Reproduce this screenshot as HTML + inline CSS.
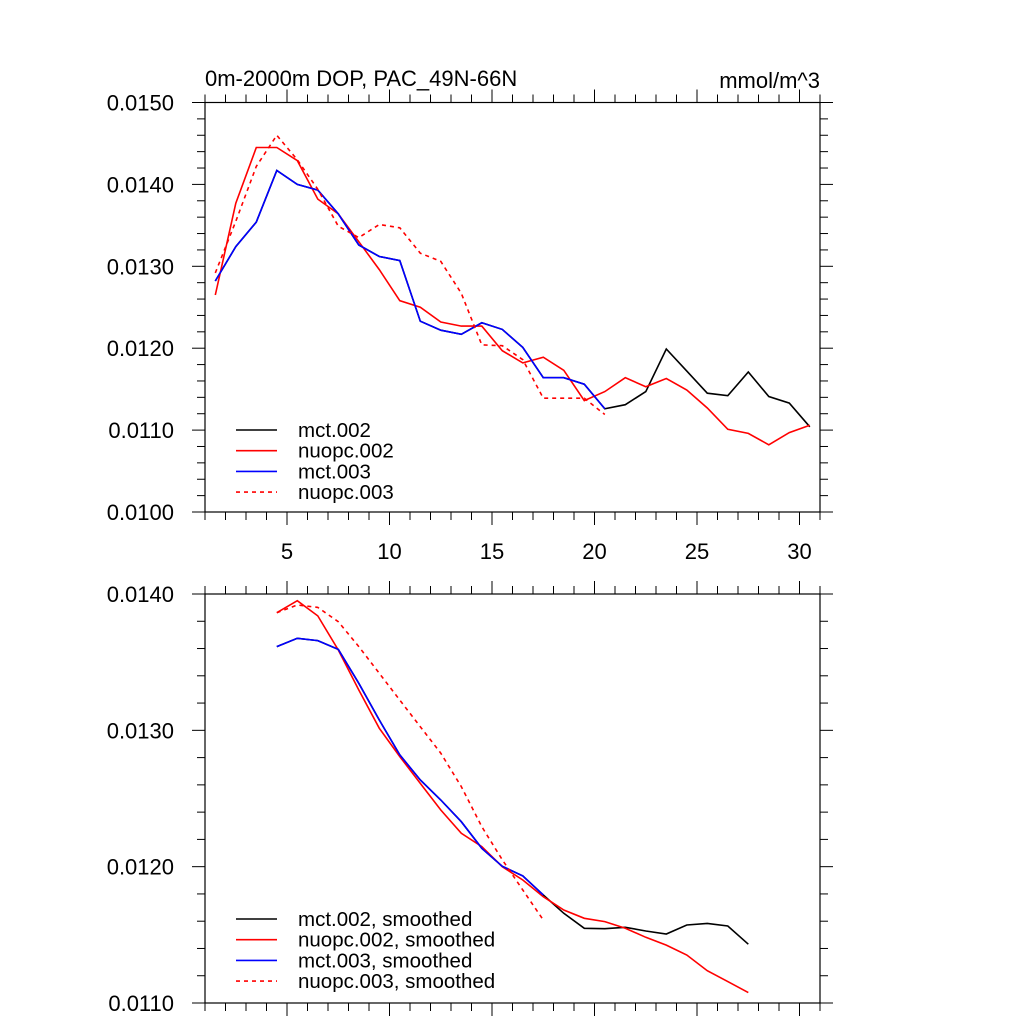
<!DOCTYPE html>
<html><head><meta charset="utf-8"><style>
html,body{margin:0;padding:0;background:#fff;}
svg text{font-family:"Liberation Sans",sans-serif;fill:#000;}
</style></head><body>
<svg id="chart" width="1024" height="1024" viewBox="0 0 1024 1024" xmlns="http://www.w3.org/2000/svg">
<rect width="1024" height="1024" fill="#fff"/>
<text x="205" y="86" font-size="22">0m-2000m DOP, PAC_49N-66N</text>
<text x="820" y="88" font-size="22" text-anchor="end">mmol/m^3</text>
<g id="top"></g><g id="bot"></g>
</svg>
<script>
const xCats = [1.5,2.5,3.5,4.5,5.5,6.5,7.5,8.5,9.5,10.5,11.5,12.5,13.5,14.5,15.5,16.5,17.5,18.5,19.5,20.5,21.5,22.5,23.5,24.5,25.5,26.5,27.5,28.5,29.5,30.5];
const mct002 = [0.01282,0.01324,0.01354,0.01417,0.0140,0.01393,0.01364,0.01326,0.01312,0.01307,0.01233,0.01222,0.01217,0.01231,0.01223,0.01201,0.01164,0.01164,0.01156,0.01126,0.01131,0.01147,0.01199,0.01172,0.01145,0.01142,0.01171,0.01141,0.01133,0.01104];
const nuopc002 = [0.01265,0.01377,0.01445,0.01445,0.01429,0.01382,0.01364,0.0133,0.01296,0.01258,0.0125,0.01232,0.01227,0.01227,0.01197,0.01182,0.01189,0.01173,0.01136,0.01147,0.01164,0.01153,0.01163,0.01149,0.01127,0.01101,0.01096,0.01082,0.01097,0.01106];
const mct003 = [0.01282,0.01324,0.01354,0.01417,0.0140,0.01393,0.01364,0.01326,0.01312,0.01307,0.01233,0.01222,0.01217,0.01231,0.01223,0.01201,0.01164,0.01164,0.01156,0.01126];
const nuopc003 = [0.01292,0.01355,0.01422,0.0146,0.0143,0.01394,0.01349,0.01335,0.01351,0.01347,0.01316,0.01306,0.01267,0.01204,0.01203,0.01186,0.01139,0.01139,0.01139,0.01119];
const xSm = [4.5,5.5,6.5,7.5,8.5,9.5,10.5,11.5,12.5,13.5,14.5,15.5,16.5,17.5,18.5,19.5,20.5,21.5,22.5,23.5,24.5,25.5,26.5,27.5];
const mct002s = [0.013614,0.013675,0.013658,0.013594,0.013345,0.013076,0.01282,0.012636,0.012489,0.01233,0.012135,0.012003,0.011932,0.011792,0.011658,0.011548,0.011545,0.011555,0.011528,0.011506,0.011572,0.011584,0.011565,0.011431];
const nuopc002s = [0.013863,0.013951,0.013839,0.013589,0.013296,0.013015,0.012807,0.012611,0.012416,0.012245,0.012147,0.012,0.011902,0.01178,0.011682,0.011621,0.011597,0.011548,0.011482,0.011425,0.011352,0.011237,0.011157,0.011076];
const mct003s = [0.013614,0.013675,0.013658,0.013594,0.013345,0.013076,0.01282,0.012636,0.012489,0.01233,0.012135,0.012003,0.011932,0.011792];
const nuopc003s = [0.013863,0.013919,0.013902,0.013797,0.013614,0.013418,0.013222,0.013027,0.012832,0.012587,0.012293,0.01205,0.011829,0.011609];
const topYTicks = ["0.0100","0.0110","0.0120","0.0130","0.0140","0.0150"];
const botYTicks = ["0.0110","0.0120","0.0130","0.0140"];
const xTickLabels = ["5","10","15","20","25","30"];

const NS="http://www.w3.org/2000/svg";
function mk(parent,tag,attrs){const e=document.createElementNS(NS,tag);for(const k in attrs)e.setAttribute(k,attrs[k]);parent.appendChild(e);return e;}
const L=205,R=820,X0=1,X1=31;
function xs(v){return L+(v-X0)/(X1-X0)*(R-L);}

function panel(g,top,bot,ymin,ymax,yLabels,showX,series,legendY,prefix){
  const ys=v=>bot-(v-ymin)/(ymax-ymin)*(bot-top);
  const frame=mk(g,'rect',{x:L,y:top,width:R-L,height:bot-top,fill:'none',stroke:'#000','stroke-width':1.2});
  
  
  for(let v=X0;v<=X1;v++){
    const maj=v%5===0, len=maj?13:8, x=xs(v);
    const t1=mk(g,'line',{x1:x,x2:x,y1:top,y2:top-len,stroke:'#000','stroke-width':1});
    
    
    const t2=mk(g,'line',{x1:x,x2:x,y1:bot,y2:bot+len,stroke:'#000','stroke-width':1});
    
    
  }
  if(showX){
    xTickLabels.forEach(s=>{
      const t=mk(g,'text',{x:xs(+s),y:bot+47,'font-size':22,'text-anchor':'middle'});
      t.textContent=s;
      
      
    });
  }
  const step=0.0002, n=Math.round((ymax-ymin)/step);
  for(let i=0;i<=n;i++){
    const v=ymin+i*step, y=ys(v), maj=i%5===0, len=maj?13:8;
    const a=mk(g,'line',{x1:L,x2:L-len,y1:y,y2:y,stroke:'#000','stroke-width':1});
    
    
    const b=mk(g,'line',{x1:R,x2:R+len,y1:y,y2:y,stroke:'#000','stroke-width':1});
    
    
  }
  yLabels.forEach(s=>{
    const t=mk(g,'text',{x:174,y:ys(+s)+8,'font-size':22,'text-anchor':'end'});
    t.textContent=s;
    
    
  });
  series.forEach((s,i)=>{
    const pts=s.y.map((v,j)=>xs(s.x[j]).toFixed(1)+','+ys(v).toFixed(1)).join(' ');
    const p=mk(g,'polyline',{points:pts,fill:'none',stroke:s.c,'stroke-width':1.6,'stroke-dasharray':s.d?'4,4':'none'});
    
    
    const ly=legendY+i*20.7;
    const ll=mk(g,'line',{x1:236,x2:277,y1:ly,y2:ly,stroke:s.c,'stroke-width':1.6,'stroke-dasharray':s.d?'4,4':'none'});
    
    
    const lt=mk(g,'text',{x:298,y:ly+7,'font-size':20.5});
    lt.textContent=s.label;
    
    
  });
}
panel(document.getElementById('top'),102.5,512,0.0100,0.0150,topYTicks,true,[
  {id:'mct-002',x:xCats,y:mct002,c:'#000',label:'mct.002'},
  {id:'nuopc-002',x:xCats,y:nuopc002,c:'#f00',label:'nuopc.002'},
  {id:'mct-003',x:xCats,y:mct003,c:'#00f',label:'mct.003'},
  {id:'nuopc-003',x:xCats,y:nuopc003,c:'#f00',d:true,label:'nuopc.003'}
],430,'top');
panel(document.getElementById('bot'),594,1003,0.0110,0.0140,botYTicks,false,[
  {id:'mct-002-smoothed',x:xSm,y:mct002s,c:'#000',label:'mct.002, smoothed'},
  {id:'nuopc-002-smoothed',x:xSm,y:nuopc002s,c:'#f00',label:'nuopc.002, smoothed'},
  {id:'mct-003-smoothed',x:xSm,y:mct003s,c:'#00f',label:'mct.003, smoothed'},
  {id:'nuopc-003-smoothed',x:xSm,y:nuopc003s,c:'#f00',d:true,label:'nuopc.003, smoothed'}
],919,'bottom');
</script>
</body></html>
